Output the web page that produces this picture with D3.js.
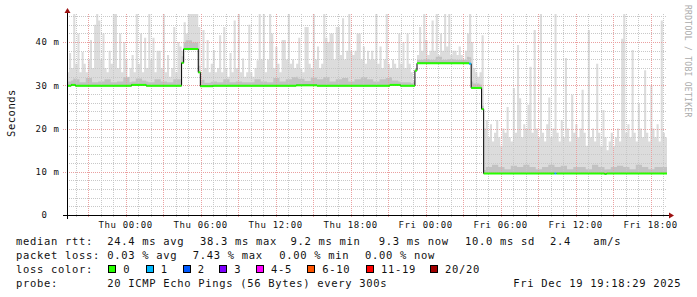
<!DOCTYPE html>
<html><head><meta charset="utf-8">
<script src="https://cdn.jsdelivr.net/npm/d3@7"></script>
<style>
body{margin:0;background:#fff}
svg{display:block}
text{font-family:"DejaVu Sans Mono",monospace}
</style>
</head><body>
<svg id="c" width="697" height="297"></svg>
<script>
// ---------- DATA ----------
const tStart = new Date(2025, 11, 17, 19, 18, 29);
const tEnd   = new Date(2025, 11, 19, 19, 18, 29);
const sampleMinutes = 10;
const yMax = 46.5;
const yLabelTicks = [0, 10, 20, 30, 40];

// top of the light smoke (max ping) per 10-minute sample, ms
const smokeHi = [
 33,37.5,34,47,35,42,33,37.7,35,33, 36,40.5,34,44,47,45,36,42,34,33,
 38,35,47,47,34,42,33,40,36,32, 34,37,33,47,35,42,33,41,34,47,
 36,41,33,38,38,34,47,33,37,32, 34,43.5,33,40,39,
 38,44.6,42,47,47,47,47,47,43.5,
 33,42.8,34,40.5,33,35,38.2,33,34,41.6, 33,43.5,34,32,37.5,33,45,34,47,33,
 36.2,32,33,44,33,32,34,35.8,47,36, 47,33,36,47,42,34,38.9,35,33,40.5,
 40.5,36,47,35,36,34,35,41,34,33, 43.5,43.5,35,34,47,36,39,34,35,47,
 41,40,42,42,36,43.5,43.5,37,45.5,36, 38,47,38,37,38,42,42,36,39,35,
 38,36,38,36,47,35,39,34,36,47, 35,34,36,35,34,42,35,40,34,42,
 35,33,31,
 34,37,43.5,38,47,40.5,37,38,45,38, 47,37,42,38,47,39,47,37,38,38,
 37,39,37,36,38,42,47,
 40,34,33,32,33,41.6,
 20,22,18,21,17,19,22,18,16,20, 19,25,18,17,29.4,19,39.3,27,18,21,
 20,25.5,34.3,19,42.8,20,18,47,19,17, 21,27.2,18,20,47,19,17,22,18,36.3,
 20,17,27.8,19,21,18,20,29,19,16, 42.8,18,20,17,35,19,16,24.3,18,15,
 17,19,16,18,20,17,40.8,47,19,21, 18,38.2,19,17,25.8,20,18,33.5,19,17,
 30,20,18,21,17,45,19,18
];
// spread of the dark smoke above the median, per 30-minute block, ms
const smokeSpread = [
 1,1.5,0.8,1.8,0.8,1,1.5,0.8,1,2,0.8,1.5,1,0.8,1.5,1,0.8,1.5,
 1.5,2,1.5,1.5,
 0.8,1,0.8,1.5,0.8,1,0.8,0.8,1.5,1,0.8,1.8,1,1.5,2,1.5,1,1.8,1.5,2,1,1.5,1.8,1,1.5,2,1.5,1,1.5,1.8,1,0.8,0.8,0.6,
 0.8,1,0.8,1.5,0.8,1,0.8,0.8,1.5,
 1,0.8,
 1.5,2,1.5,1,1.8,1.5,2,1.5,1,1.5,2,1.5,1.8,1,1.5,1.5,1,2,1.5,1,1.5,1.8,1.5,1,2,1.5,1,1.5,1.5
];
// median rtt as steps: sample index where a level starts, level in ms
const medStart = [0,2,4,31,38,55,56,63,64,70,110,120,155,160,167,168,193,194,199,200,258,259];
const medValue = [29.9,30.1,29.9,30.1,29.9,35.2,38.4,33.0,29.8,29.9,30.0,29.9,30.1,29.9,33.4,35.1,35.0,29.4,24.5,9.6,9.5,9.6];
// samples with packet loss (index, loss class)
const lossAt = [193, 234];
const lossCls = [1, 1];

const lossClasses = ["0","1","2","3","4-5","6-10","11-19","20/20"];
const lossColors = ["#26ff00","#00b8ff","#0059ff","#7e00ff","#ff00ff","#ff5500","#ff0000","#a10000"];
const rttTitle = "median rtt:";
const rttItems = ["24.4 ms avg","38.3 ms max","9.2 ms min","9.3 ms now","10.0 ms sd","2.4","am/s"];
const lossTitle = "packet loss:";
const lossItems = ["0.03 % avg","7.43 % max","0.00 % min","0.00 % now"];
const colorTitle = "loss color:";
const probeTitle = "probe:";
const probeText = "20 ICMP Echo Pings (56 Bytes) every 300s";
const dateText = "Fri Dec 19 19:18:29 2025";
const yTitle = "Seconds";
const watermark = "RRDTOOL / TOBI OETIKER";

// ---------- CHART ----------
const svg = d3.select("#c");
svg.append("rect").attr("width",697).attr("height",297).attr("fill","#fff");

const x = d3.scaleTime().domain([tStart, tEnd]).range([67, 667]);
const y = d3.scaleLinear().domain([0, yMax]).range([215, 14]).clamp(true);
const stepMs = sampleMinutes * 60000;

function medianAt(i){ let v = medValue[0]; for (let k=0;k<medStart.length;k++) if (medStart[k] <= i) v = medValue[k]; return v; }
function lossAtIdx(i){ const k = lossAt.indexOf(i); return k < 0 ? 0 : lossCls[k]; }

const samples = smokeHi.map((h,i) => {
  const med = medianAt(i);
  return { t: new Date(+tStart + i*stepMs), hi: h, med: med,
           mid: Math.min(h, med + smokeSpread[Math.floor(i/3)]), loss: lossAtIdx(i) };
});
const last = samples[samples.length-1];
const pts = samples.concat([{ t: tEnd, hi: last.hi, med: last.med, mid: last.mid, loss: last.loss }]);

// smoke
svg.append("path").datum(pts)
  .attr("fill","#dcdcdc")
  .attr("d", d3.area().curve(d3.curveStepAfter).x(d=>x(d.t)).y0(d=>y(d.med)).y1(d=>y(d.hi)));
svg.append("path").datum(pts)
  .attr("fill","#c2c2c2")
  .attr("d", d3.area().curve(d3.curveStepAfter).x(d=>x(d.t)).y0(d=>y(d.med)).y1(d=>y(d.mid)));

// grid
const grid = svg.append("g").attr("shape-rendering","crispEdges").attr("stroke-dasharray","1,1");
const px = v => Math.round(v) + 0.5;
const minorY = y.ticks(24), majorY = y.ticks(5);
minorY.filter(v => majorY.indexOf(v) < 0 && v > 0).forEach(v => {
  grid.append("line").attr("x1",67).attr("x2",667).attr("y1",px(y(v))).attr("y2",px(y(v))).attr("stroke","#c8c8c8");
});
const hours = x.ticks(d3.timeHour.every(1)), hours3 = x.ticks(d3.timeHour.every(3));
const isMajor = d => d.getHours() % 3 === 0;
hours.filter(d => !isMajor(d)).forEach(d => {
  grid.append("line").attr("x1",px(x(d))).attr("x2",px(x(d))).attr("y1",14).attr("y2",218).attr("stroke","#c8c8c8");
});
hours3.forEach(d => {
  grid.append("line").attr("x1",px(x(d))).attr("x2",px(x(d))).attr("y1",14).attr("y2",218).attr("stroke","#eaa0a0");
});
majorY.filter(v => v > 0).forEach(v => {
  grid.append("line").attr("x1",63).attr("x2",667).attr("y1",px(y(v))).attr("y2",px(y(v))).attr("stroke","#eaa0a0");
});

// median: black step line underneath, colored horizontal parts on top
svg.append("path").datum(pts)
  .attr("fill","none").attr("stroke","#000").attr("stroke-width",1)
  .attr("d", d3.line().curve(d3.curveStepAfter).x(d=>x(d.t)).y(d=>y(d.med)));
const runs = [];
samples.forEach((s,i) => {
  const x0 = x(s.t), x1 = x(new Date(+s.t + stepMs));
  const prev = runs[runs.length-1];
  if (prev && prev.loss === s.loss && prev.med === s.med) prev.x1 = x1;
  else runs.push({ x0, x1, med: s.med, loss: s.loss });
});
svg.append("g").selectAll("line").data(runs).join("line")
  .attr("x1", d=>d.x0).attr("x2", d=>d.x1)
  .attr("y1", d=>y(d.med)).attr("y2", d=>y(d.med))
  .attr("stroke", d=>lossColors[d.loss]).attr("stroke-width",2);

// axes
const ax = svg.append("g").attr("shape-rendering","crispEdges");
ax.append("line").attr("x1",63).attr("x2",669).attr("y1",215.5).attr("y2",215.5).attr("stroke","#000");
ax.append("line").attr("x1",67.5).attr("x2",67.5).attr("y1",219).attr("y2",12).attr("stroke","#000");
svg.append("path").attr("d","M669,212.5L674,215.5L669,218.5Z").attr("fill","#9c1010");
svg.append("path").attr("d","M64.5,13L67.5,8L70.5,13Z").attr("fill","#9c1010");

// axis labels
const fmt = d3.timeFormat("%a %H:%M");
svg.append("g").selectAll("text").data(x.ticks(d3.timeHour.every(6))).join("text")
  .attr("x", d=>x(d)).attr("y",227.5).attr("text-anchor","middle")
  .attr("font-size","9px").attr("letter-spacing","0.6px").attr("fill","#111")
  .text(d=>fmt(d));
const yl = svg.append("g").attr("font-size","9px").attr("letter-spacing","0.6px").attr("fill","#111");
yLabelTicks.forEach(v => {
  yl.append("text").attr("x",47.5).attr("y",y(v)+3.2).attr("text-anchor","end").text(v);
  if (v !== 0) yl.append("text").attr("x",53.5).attr("y",y(v)+3.2).text("m");
});
svg.append("text").attr("transform","translate(15,113) rotate(-90)").attr("text-anchor","middle")
  .attr("font-size","10.5px").attr("letter-spacing","0.5px").attr("fill","#111").text(yTitle);
svg.append("text").attr("transform","translate(685,5) rotate(90)")
  .attr("font-size","8px").attr("letter-spacing","0.3px").attr("fill","#aaa").text(watermark);

// legend
const lg = svg.append("g").attr("font-size","10.5px").attr("letter-spacing","0.68px").attr("fill","#111")
  .attr("style","white-space:pre");
const row = [244.5, 258.8, 273, 287.3];
lg.append("text").attr("x",16).attr("y",row[0]).text(rttTitle);
const rttX = [107.3,200,290.5,378.7,465,550,593.3];
rttItems.forEach((t,k) => lg.append("text").attr("x",rttX[k]).attr("y",row[0]).text(t));
lg.append("text").attr("x",16).attr("y",row[1]).text(lossTitle);
const lossX = [107.3,192.7,279.3,365];
lossItems.forEach((t,k) => lg.append("text").attr("x",lossX[k]).attr("y",row[1]).text(t));
lg.append("text").attr("x",16).attr("y",row[2]).text(colorTitle);
const boxX = [108.3,145.7,182.7,219.3,256,307.3,366,430];
lossClasses.forEach((t,k) => {
  lg.append("rect").attr("x",boxX[k]+0.5).attr("y",265.5).attr("width",7).attr("height",7)
    .attr("fill",lossColors[k]).attr("stroke","#000").attr("stroke-width",1).attr("shape-rendering","crispEdges");
  lg.append("text").attr("x",boxX[k]+15).attr("y",row[2]).text(t);
});
lg.append("text").attr("x",16).attr("y",row[3]).text(probeTitle);
lg.append("text").attr("x",107.3).attr("y",row[3]).text(probeText);
lg.append("text").attr("x",513.3).attr("y",row[3]).text(dateText);
</script>
</body></html>
